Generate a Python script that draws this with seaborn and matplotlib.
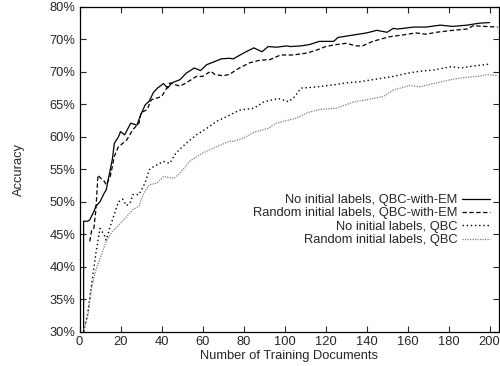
import pandas as pd
import matplotlib
matplotlib.use("Agg")
import matplotlib.pyplot as plt
import seaborn as sns

# values (x = documents, y = accuracy in %)
em_none_x = [2, 2, 4, 5, 7, 8, 10, 12, 13, 14, 16, 17, 19, 20, 22, 24, 25, 28, 30, 32, 34, 36, 38,
             41, 43, 45, 49, 52, 56, 59, 62, 66, 69, 73, 75, 80, 85, 89, 92, 96, 101, 103, 108,
             112, 117, 124, 126, 134, 140, 145, 150, 153, 155, 163, 169, 176, 182, 189, 195, 200]
em_none_y = [30, 47, 47, 47.2, 48.5, 49.3, 50, 51.3, 51.8, 53.4, 56.5, 59, 60, 60.8, 60.3, 61.5,
             62.1, 61.8, 63.5, 64.9, 65.5, 66.8, 67.5, 68.2, 67.5, 68.3, 68.8, 69.8, 70.6, 70.2,
             71.1, 71.6, 72.0, 72.1, 72.0, 72.9, 73.7, 73.1, 73.9, 73.8, 74.0, 73.9, 74.0, 74.2,
             74.7, 74.7, 75.3, 75.7, 76.0, 76.4, 76.1, 76.7, 76.6, 76.9, 76.9, 77.2, 77.0, 77.2,
             77.5, 77.6]

em_rand_x = [5, 6, 7, 8, 9, 11, 12, 13, 15, 16, 17, 19, 20, 23, 26, 29, 30, 33, 35, 38, 40, 42,
             44, 49, 52, 57, 60, 64, 66, 70, 73, 78, 83, 88, 93, 98, 104, 111, 116, 120, 125, 130,
             135, 138, 143, 151, 158, 164, 169, 174, 182, 189, 192, 198, 204]
em_rand_y = [43.9, 45.7, 45.9, 48.8, 54.1, 53.4, 53.2, 52.6, 53.9, 55.4, 57, 58.5, 58.7, 59.5,
             61.1, 62.1, 63.7, 64.2, 65.7, 66.0, 66.2, 67.2, 68.3, 67.8, 68.3, 69.3, 69.3, 70.1,
             69.6, 69.4, 69.6, 70.6, 71.4, 71.8, 71.9, 72.6, 72.6, 72.9, 73.4, 73.9, 74.2, 74.4,
             74.0, 74.0, 74.7, 75.4, 75.7, 76.0, 75.8, 76.1, 76.4, 76.6, 77.1, 77.0, 76.9]

qbc_none_x = [2, 4, 6, 8, 10, 12, 13, 15, 19, 21, 23, 25, 26, 29, 32, 34, 36, 41, 44, 47, 52, 57,
              62, 67, 73, 78, 85, 90, 97, 102, 105, 108, 116, 124, 130, 137, 145, 153, 160, 166,
              173, 181, 186, 192, 200]
qbc_none_y = [30, 32.8, 37.5, 42.1, 45.9, 44.9, 44.1, 46.2, 50.0, 50.4, 49.4, 50.0, 51.1, 51.1,
              52.9, 54.9, 55.4, 56.2, 55.9, 57.5, 59.0, 60.3, 61.3, 62.4, 63.3, 64.1, 64.4, 65.4,
              65.9, 65.4, 66.2, 67.5, 67.7, 68.0, 68.3, 68.5, 68.9, 69.3, 69.8, 70.1, 70.3, 70.8,
              70.6, 70.9, 71.2]

qbc_rand_x = [2, 4, 6, 8, 11, 13, 16, 20, 23, 26, 29, 31, 34, 38, 41, 46, 49, 54, 60, 67, 73, 75,
              80, 85, 92, 96, 106, 111, 117, 125, 134, 140, 148, 153, 161, 166, 174, 181, 187,
              194, 199, 204]
qbc_rand_y = [30.3, 32.3, 36.9, 39.5, 42.1, 43.9, 45.4, 46.7, 47.7, 48.8, 49.3, 51.1, 52.6, 52.9,
              53.9, 53.6, 54.4, 56.3, 57.5, 58.5, 59.3, 59.3, 59.8, 60.7, 61.3, 62.1, 62.9, 63.7,
              64.2, 64.4, 65.4, 65.7, 66.2, 67.2, 67.9, 67.7, 68.3, 68.8, 69.1, 69.3, 69.6, 69.4]

series_names = ["No initial labels, QBC-with-EM", "Random initial labels, QBC-with-EM",
                "No initial labels, QBC", "Random initial labels, QBC"]
x_ticks = [0, 20, 40, 60, 80, 100, 120, 140, 160, 180, 200]
y_ticks = [30, 35, 40, 45, 50, 55, 60, 65, 70, 75, 80]
y_tick_labels = ["30%", "35%", "40%", "45%", "50%", "55%", "60%", "65%", "70%", "70%", "80%"]

sns.set_style("ticks")
plt.rcParams["font.family"] = ["Liberation Sans", "DejaVu Sans"]
plt.rcParams["xtick.direction"] = "in"
plt.rcParams["ytick.direction"] = "in"

fig = plt.figure(figsize=(5, 3.66), dpi=100)
ax = fig.add_axes([0.159, 0.094, 0.8395, 0.887])

styles = [
    dict(color="black", linestyle="-", linewidth=0.9),
    dict(color="black", linestyle=(0, (3.5, 2)), linewidth=0.9),
    dict(color="black", linestyle=(0, (1, 2)), linewidth=1.0),
    dict(color="#808080", linestyle=(0, (1, 1)), linewidth=0.9),
]
all_x = [em_none_x, em_rand_x, qbc_none_x, qbc_rand_x]
all_y = [em_none_y, em_rand_y, qbc_none_y, qbc_rand_y]
for name, xs, ys, st in zip(series_names, all_x, all_y, styles):
    df = pd.DataFrame({"docs": xs, "acc": ys})
    sns.lineplot(data=df, x="docs", y="acc", ax=ax, label=name, sort=False,
                 estimator=None, **st)

ax.set_xlim(0, 204.7)
ax.set_ylim(30, 80)
ax.set_xticks(x_ticks)
ax.set_yticks(y_ticks)
ax.set_yticklabels(y_tick_labels)
ax.tick_params(labelsize=9.3, length=4, width=0.8, top=True, right=True, pad=3)
for sp in ax.spines.values():
    sp.set_linewidth(0.9)
    sp.set_color("black")

ax.set_xlabel("Number of Training Documents", fontsize=9.3)
ax.xaxis.set_label_coords(0.5, -0.058)
ax.set_ylabel("Accuracy", fontsize=9.3)
ax.yaxis.set_label_coords(-0.130, 0.5)

ax.legend(loc="upper right", bbox_to_anchor=(490 / 500, 1 - 194 / 366),
          bbox_transform=fig.transFigure, frameon=False, markerfirst=False,
          fontsize=9.3, handlelength=2.2, handletextpad=0.3, labelspacing=0.1,
          borderpad=0, borderaxespad=0)

fig.savefig("out.png", dpi=100)
